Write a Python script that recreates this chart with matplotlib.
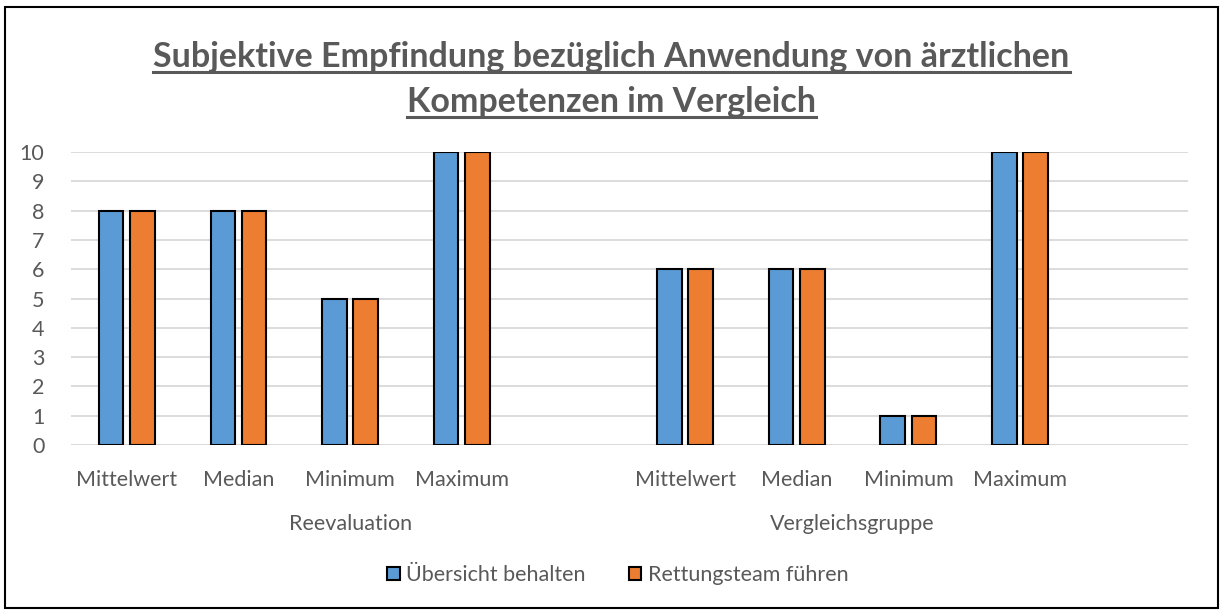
import matplotlib.pyplot as plt
import numpy as np
from matplotlib.lines import Line2D
from matplotlib.patches import Rectangle

plt.rcParams['font.family'] = ['Lato', 'DejaVu Sans']

# slots: 4 stats per group, one blank slot after each group
categories = ["Mittelwert", "Median", "Minimum", "Maximum", "",
              "Mittelwert", "Median", "Minimum", "Maximum", ""]
groups = ["Reevaluation", "Vergleichsgruppe"]
group_spans = [(0, 4), (5, 8)]
uebersicht = [8, 8, 5, 10, np.nan, 6, 6, 1, 10, np.nan]
rettungsteam = [8, 8, 5, 10, np.nan, 6, 6, 1, 10, np.nan]
series_names = ["Übersicht behalten", "Rettungsteam führen"]

blue = "#5B9BD5"
orange = "#ED7D31"
grey = "#595959"

fig = plt.figure(figsize=(12.23, 6.10), dpi=100)
ax = fig.add_axes([0.058, 0.2705, 0.913, 0.4803])

x = np.arange(len(categories))
w = 0.22
ax.bar(x - 0.14, uebersicht, w, color=blue, edgecolor="black", linewidth=1.5,
       label=series_names[0], zorder=3)
ax.bar(x + 0.14, rettungsteam, w, color=orange, edgecolor="black", linewidth=1.5,
       label=series_names[1], zorder=3)

ax.set_xlim(-0.5, len(categories) - 0.5)
ax.set_ylim(0, 10)
ax.set_yticks(range(0, 11))
ax.yaxis.grid(True, color="#D9D9D9", linewidth=1.3, zorder=0)
for s in ax.spines.values():
    s.set_visible(False)
ax.tick_params(axis="y", length=0, pad=19, labelsize=15.5, labelcolor=grey)
ax.tick_params(axis="x", length=0, pad=18, labelsize=15.5, labelcolor=grey)
ax.set_xticks(x)
ax.set_xticklabels(categories)
ax.axhline(0, color="#D9D9D9", linewidth=1.3, zorder=1)

# group labels below the category labels
for name, (a, b) in zip(groups, group_spans):
    ax.text((a + b) / 2, -2.68, name, ha="center", va="center",
            fontsize=15.5, color=grey, transform=ax.transData, clip_on=False)

# title with underline
t1 = fig.text(0.5, 0.907, "Subjektive Empfindung bezüglich Anwendung von ärztlichen",
              ha="center", va="center", fontsize=24.5, fontweight="bold", color=grey)
t2 = fig.text(0.5, 0.832, "Kompetenzen im Vergleich",
              ha="center", va="center", fontsize=24.5, fontweight="bold", color=grey)

fig.legend(loc="center", bbox_to_anchor=(0.505, 0.057), ncol=2, frameon=False,
           fontsize=15.5, labelcolor=grey, handlelength=0.6, handleheight=0.6,
           handletextpad=0.3, columnspacing=2.0)

fig.canvas.draw()
r = fig.canvas.get_renderer()
for t in (t1, t2):
    bb = t.get_window_extent(r).transformed(fig.transFigure.inverted())
    fig.add_artist(Line2D([bb.x0, bb.x1], [bb.y0 + 0.002, bb.y0 + 0.002],
                          color=grey, linewidth=2.2, transform=fig.transFigure))

fig.add_artist(Rectangle((0.004, 0.003), 0.992, 0.985, fill=False,
                         edgecolor="black", linewidth=1.5,
                         transform=fig.transFigure))

fig.savefig("out.png", dpi=100)
